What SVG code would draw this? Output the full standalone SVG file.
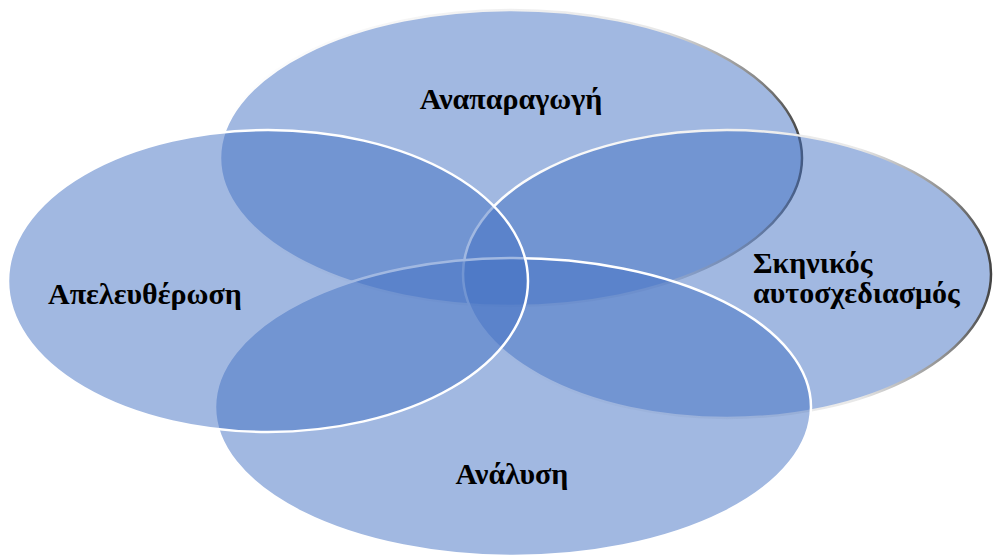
<svg xmlns="http://www.w3.org/2000/svg" width="993" height="555" viewBox="0 0 993 555">
<style>
.c{fill:#4472c4;fill-opacity:0.5;stroke:#fff;stroke-width:2.5}
.g{stroke:url(#edge)}
.t{font-family:"Liberation Serif","Times New Roman",serif;font-weight:bold;font-size:30px;fill:#000}
</style>
<defs>
<linearGradient id="edge" x1="0" y1="0" x2="1" y2="0">
<stop offset="0" stop-color="#ffffff"/>
<stop offset="0.75" stop-color="#e8e8e8"/>
<stop offset="0.92" stop-color="#8a8a8a"/>
<stop offset="1" stop-color="#444"/>
</linearGradient>
</defs>
<rect width="993" height="555" fill="#fff"/>
<g id="node-top"><ellipse class="c g" cx="511" cy="158" rx="291" ry="148"/></g>
<g id="node-right"><ellipse class="c g" cx="727" cy="274" rx="264" ry="144"/></g>
<g id="node-bottom"><ellipse class="c" cx="513" cy="407" rx="298" ry="149"/></g>
<g id="node-left"><ellipse class="c" cx="268" cy="281" rx="260" ry="151"/></g>
<g id="connectors"></g>
<g id="labels">
<text class="t" x="511" y="109" text-anchor="middle">Αναπαραγωγή</text>
<text class="t" x="48" y="304">Απελευθέρωση</text>
<text class="t" x="753" y="273">Σκηνικός</text>
<text class="t" x="753" y="303">αυτοσχεδιασμός</text>
<text class="t" x="512" y="484" text-anchor="middle">Ανάλυση</text>
</g>
</svg>
